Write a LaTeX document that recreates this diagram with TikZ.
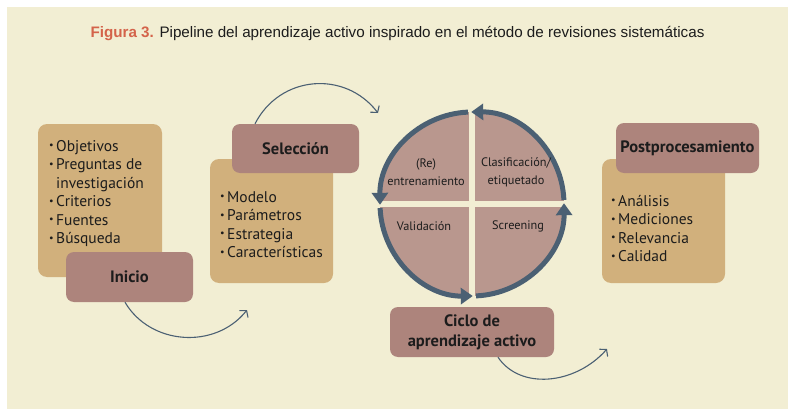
\documentclass[tikz,border=0pt]{standalone}
\usepackage{fontspec}
\usepackage{graphicx}
\setmainfont{PT Sans}
\newfontfamily\titlefont{Liberation Sans}
\usetikzlibrary{arrows.meta}
\definecolor{panelbg}{HTML}{F2EED3}
\definecolor{tanbox}{HTML}{D1B07C}
\definecolor{mauvebox}{HTML}{AD847C}
\definecolor{quadfill}{HTML}{B9978E}
\definecolor{arrowcol}{HTML}{4B6073}
\definecolor{titlered}{HTML}{D4634A}
\definecolor{textcol}{HTML}{1C1C1C}
\newcommand{\bul}{\makebox[7pt][l]{\raisebox{0.28ex}{\scalebox{0.65}{\textbullet}}}}
\tikzset{
  tanbg/.style={fill=tanbox, rounded corners=9pt, inner sep=0pt},
  mauvelabel/.style={fill=mauvebox, rounded corners=8pt, inner sep=0pt, font=\fontsize{16.5}{20}\selectfont\bfseries, text=textcol, align=center},
  bullets/.style={inner sep=0pt, anchor=base west, font=\fontsize{15.5}{18.5}\selectfont, text=textcol},
  quadlabel/.style={inner sep=0pt, align=center, font=\fontsize{12.3}{18}\selectfont, text=textcol},
  flowarrow/.style={draw=arrowcol, line width=1.1pt, -{Straight Barb[length=4.5pt,width=11pt]}},
  ringarc/.style={draw=arrowcol, line width=5pt, -{Triangle[length=12pt,width=16pt]}}
}
\begin{document}
\begin{tikzpicture}[x=1pt, y=-1pt]
\useasboundingbox (0,0) rectangle (796,415);
\fill[white] (0,0) rectangle (796,415);
\fill[panelbg] (7,7) rectangle (788,409);

% title
\node[inner sep=0pt, font=\titlefont\fontsize{15.2}{18}\selectfont, text=textcol, anchor=base] (title) at (397.5,37)
  {\textcolor{titlered}{\textbf{Figura 3.}} Pipeline del aprendizaje activo inspirado en el método de revisiones sistemáticas};

% Inicio
\node[tanbg, minimum width=124pt, minimum height=153pt] (initan) at (100,200.5) {};
\node[bullets] (initext) at (49,151) {\begin{tabular}[t]{@{}l@{}}\bul Objetivos\\ \bul Preguntas de\\ \hphantom{\bul}investigación\\ \bul Criterios\\ \bul Fuentes\\ \bul Búsqueda\end{tabular}};
\node[mauvelabel, minimum width=127pt, minimum height=50pt] (inicio) at (129.5,277) {Inicio};

% Seleccion
\node[tanbg, minimum width=123pt, minimum height=124pt] (seltan) at (271.5,221) {};
\node[bullets] (seltext) at (220,202) {\begin{tabular}[t]{@{}l@{}}\bul Modelo\\ \bul Parámetros\\ \bul Estrategia\\ \bul Características\end{tabular}};
\node[mauvelabel, minimum width=127pt, minimum height=49pt] (seleccion) at (295.5,148.5) {Selección};

% Postprocesamiento
\node[tanbg, minimum width=123pt, minimum height=124pt] (posttan) at (663.5,221) {};
\node[bullets] (posttext) at (611,206) {\begin{tabular}[t]{@{}l@{}}\bul Análisis\\ \bul Mediciones\\ \bul Relevancia\\ \bul Calidad\end{tabular}};
\node[mauvelabel, minimum width=143pt, minimum height=50pt] (post) at (687.5,148) {Postprocesamiento};

% Ciclo
\node[mauvelabel, minimum width=164pt, minimum height=50pt] (ciclo) at (472,332) {Ciclo de\\aprendizaje activo};

% circle
\coordinate (C) at (472,204);
\fill[quadfill] (C) circle[radius=92pt];
\draw[panelbg, line width=6pt] ([yshift=-95pt]C) -- ([yshift=95pt]C);
\draw[panelbg, line width=6pt] ([xshift=-95pt]C) -- ([xshift=95pt]C);
\draw[ringarc] (C) ++(92.5:92pt) arc[start angle=92.5, end angle=180.5, radius=92pt];
\draw[ringarc] (C) ++(182.5:92pt) arc[start angle=182.5, end angle=270.5, radius=92pt];
\draw[ringarc] (C) ++(272.5:92pt) arc[start angle=272.5, end angle=360.5, radius=92pt];
\draw[ringarc] (C) ++(2.5:92pt) arc[start angle=2.5, end angle=90.5, radius=92pt];

\node[quadlabel] (reent) at (426,172) {(Re)\\entrenamiento};
\node[quadlabel] (clasif) at (516,172) {Clasificación/\\etiquetado};
\node[quadlabel] (valid) at (424,226) {Validación};
\node[quadlabel] (screen) at (518,226) {Screening};

% flow arrows
\coordinate (a1end) at (247,310);
\draw[flowarrow] ([xshift=-4.5pt]inicio.south) .. controls (150,345) and (215,350) .. (a1end);
\coordinate (a2end) at (378,113);
\draw[flowarrow] ([xshift=-40.5pt]seleccion.north) .. controls (280,75) and (345,70) .. (a2end);
\coordinate (a3end) at (607,349);
\draw[flowarrow] ([xshift=26pt]ciclo.south) .. controls (520,390) and (575,385) .. (a3end);
\end{tikzpicture}
\end{document}
